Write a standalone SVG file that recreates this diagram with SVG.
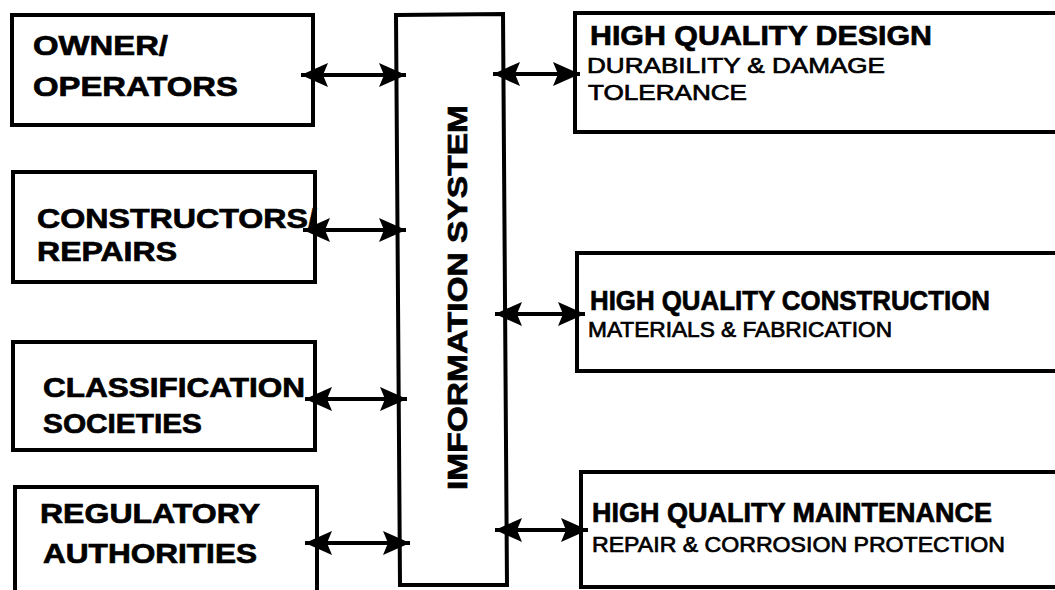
<svg xmlns="http://www.w3.org/2000/svg" width="1055" height="590" viewBox="0 0 1055 590">
<defs>
<style>
.box{fill:#fff;stroke:#000;stroke-width:4}
.t{font-family:"Liberation Sans",Arial,sans-serif;font-weight:bold;font-size:28px;fill:#000;stroke:#000;stroke-width:0.7}
.s{font-family:"Liberation Sans",Arial,sans-serif;font-weight:normal;font-size:22px;fill:#000;stroke:#000;stroke-width:0.7}
.c{stroke:#000;stroke-width:4;fill:none;marker-start:url(#ah);marker-end:url(#ah)}
</style>
<marker id="ah" markerUnits="userSpaceOnUse" markerWidth="28" markerHeight="24" refX="27" refY="12" orient="auto-start-reverse" viewBox="0 0 28 24">
<path d="M0,0 L27,12 L0,24 L5,12 Z" fill="#000"/>
</marker>
</defs>
<rect width="1055" height="590" fill="#fff"/>
<g id="owner">
<rect class="box" x="12" y="15" width="301" height="110"/>
<text class="t" x="33" y="55" textLength="135" lengthAdjust="spacingAndGlyphs">OWNER/</text>
<text class="t" x="33" y="96" textLength="205" lengthAdjust="spacingAndGlyphs">OPERATORS</text>
</g>
<g id="constructors">
<rect class="box" x="13" y="172" width="302" height="110"/>
<text class="t" x="37" y="228" textLength="280" lengthAdjust="spacingAndGlyphs">CONSTRUCTORS/</text>
<text class="t" x="37" y="261" textLength="140" lengthAdjust="spacingAndGlyphs">REPAIRS</text>
</g>
<g id="classification">
<rect class="box" x="13" y="342" width="302" height="108"/>
<text class="t" x="43" y="397" textLength="262" lengthAdjust="spacingAndGlyphs">CLASSIFICATION</text>
<text class="t" x="43" y="433" textLength="159" lengthAdjust="spacingAndGlyphs">SOCIETIES</text>
</g>
<g id="regulatory">
<rect class="box" x="15" y="487" width="302" height="120"/>
<text class="t" x="40" y="523" textLength="220" lengthAdjust="spacingAndGlyphs">REGULATORY</text>
<text class="t" x="43" y="563" textLength="214" lengthAdjust="spacingAndGlyphs">AUTHORITIES</text>
</g>
<g id="information-system">
<path class="box" d="M396,15 L503,14 L507,585 L400,585 Z"/>
<text class="t" transform="translate(467,490) rotate(-90)" x="0" y="0" font-size="29" textLength="385" lengthAdjust="spacingAndGlyphs">IMFORMATION SYSTEM</text>
</g>
<g id="design">
<rect class="box" x="575" y="13" width="500" height="119"/>
<text class="t" x="590" y="45" textLength="342" lengthAdjust="spacingAndGlyphs">HIGH QUALITY DESIGN</text>
<text class="s" x="587" y="73" textLength="298" lengthAdjust="spacingAndGlyphs">DURABILITY &amp; DAMAGE</text>
<text class="s" x="588" y="100" textLength="159" lengthAdjust="spacingAndGlyphs">TOLERANCE</text>
</g>
<g id="construction">
<rect class="box" x="577" y="253" width="500" height="118"/>
<text class="t" x="590" y="310" textLength="400" lengthAdjust="spacingAndGlyphs">HIGH QUALITY CONSTRUCTION</text>
<text class="s" x="588" y="337" font-size="20" textLength="304" lengthAdjust="spacingAndGlyphs">MATERIALS &amp; FABRICATION</text>
</g>
<g id="maintenance">
<rect class="box" x="581" y="472" width="500" height="115"/>
<text class="t" x="592" y="522" textLength="400" lengthAdjust="spacingAndGlyphs">HIGH QUALITY MAINTENANCE</text>
<text class="s" x="592" y="552" textLength="413" lengthAdjust="spacingAndGlyphs">REPAIR &amp; CORROSION PROTECTION</text>
</g>
<g id="connectors">
<line class="c" x1="301" y1="75" x2="406" y2="75"/>
<line class="c" x1="303" y1="230" x2="406" y2="230"/>
<line class="c" x1="305" y1="399" x2="407" y2="399"/>
<line class="c" x1="305" y1="543" x2="410" y2="543"/>
<line class="c" x1="493" y1="74" x2="580" y2="74"/>
<line class="c" x1="495" y1="314" x2="585" y2="314"/>
<line class="c" x1="495" y1="530" x2="588" y2="530"/>
</g>
</svg>
